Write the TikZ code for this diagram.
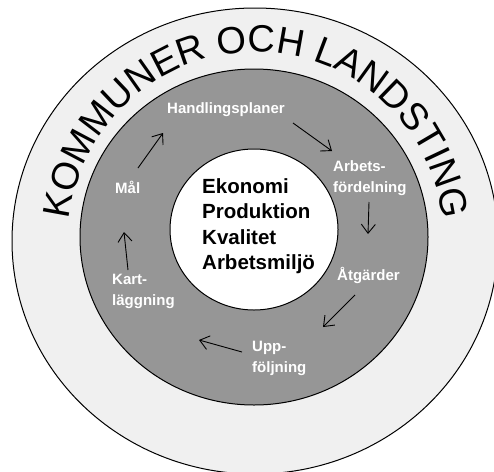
\documentclass[tikz,border=0pt]{standalone}
\usepackage{fontspec}
\setmainfont{Liberation Sans}
\usetikzlibrary{arrows.meta,decorations.text}
\begin{document}
\begin{tikzpicture}[x=1pt,y=-1pt,
  ringlbl/.style={text=white, font=\fontsize{15}{21}\selectfont\bfseries, align=left, inner sep=0pt, anchor=west},
  flow/.style={-{Straight Barb[length=9pt,width=14pt]}, line width=0.9pt, black}]
\useasboundingbox (0,0) rectangle (494,471);
\clip (0,0) rectangle (494,471);
% rings
\draw[fill={rgb,255:red,240;green,240;blue,240}, line width=1pt] (255,241) ellipse [x radius=243, y radius=233];
\draw[fill={rgb,255:red,150;green,150;blue,150}, line width=1pt] (254,237) ellipse [x radius=174, y radius=168];
\draw[fill=white, line width=1pt] (254,229.5) ellipse [x radius=84, y radius=80.5];
% outer arc text
\path[decorate, decoration={text along path, text align=center,
   text={|\fontsize{38}{38}\selectfont|KOMMUNER OCH LANDSTING}}]
  (256,241) ++(-178:188 and 189) arc[start angle=-178, end angle=-2, x radius=188, y radius=189];
% center
\node[font=\fontsize{20.5}{25.5}\selectfont\bfseries, align=left, inner sep=0pt, anchor=west] (core) at (202,226)
  {Ekonomi\\Produktion\\Kvalitet\\Arbetsmiljö};
% ring labels
\node[ringlbl] (hp) at (167,110) {Handlingsplaner};
\node[ringlbl] (af) at (333,178) {Arbets-\\fördelning};
\node[ringlbl] (atg) at (337,275) {Åtgärder};
\node[ringlbl] (uf) at (252,358) {Upp-\\följning};
\node[ringlbl] (kl) at (112,291) {Kart-\\läggning};
\node[ringlbl] (mal) at (115,187) {Mål};
% arrow ends
\coordinate (a1s) at (138,168); \coordinate (a1e) at (163,133);
\coordinate (a2s) at (293,123); \coordinate (a2e) at (332,151);
\coordinate (a3s) at (369,202); \coordinate (a3e) at (368,234);
\coordinate (a4s) at (355,295); \coordinate (a4e) at (323,327);
\coordinate (a5s) at (242,352); \coordinate (a5e) at (199,340);
\coordinate (a6s) at (128,270); \coordinate (a6e) at (124,232);
\draw[flow] (a1s) -- (a1e);
\draw[flow] (a2s) -- (a2e);
\draw[flow] (a3s) -- (a3e);
\draw[flow] (a4s) -- (a4e);
\draw[flow] (a5s) -- (a5e);
\draw[flow] (a6s) -- (a6e);
\end{tikzpicture}
\end{document}
